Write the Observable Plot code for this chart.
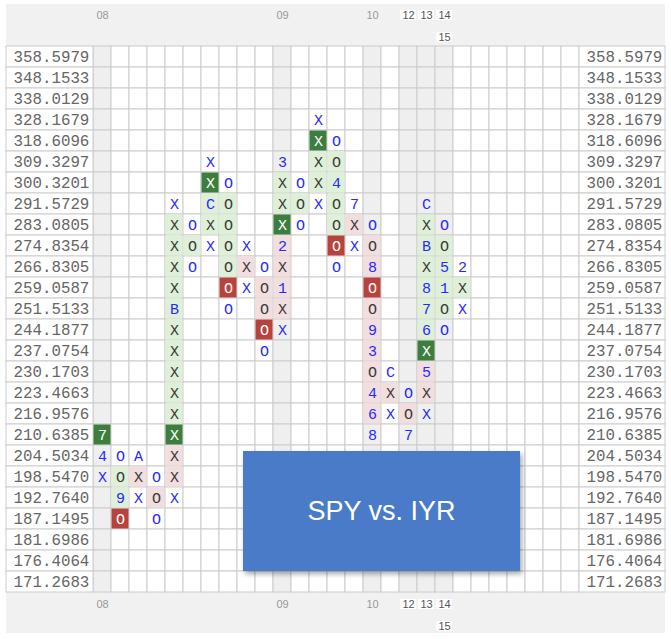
<!DOCTYPE html>
<html><head><meta charset="utf-8">
<script src="https://cdn.jsdelivr.net/npm/d3@7"></script>
<script src="https://cdn.jsdelivr.net/npm/@observablehq/plot@0.6"></script>
<style>
body{margin:0;background:#fff;}
#wrap{position:relative;width:671px;height:639px;}
#title{position:absolute;left:243px;top:451px;width:277px;height:120px;background:#4a7bc8;box-shadow:2px 3px 5px rgba(0,0,0,0.35);color:#fff;font-family:"Liberation Sans",Arial,sans-serif;font-size:27px;display:flex;align-items:center;justify-content:center;}
</style></head><body>
<div id="wrap"><div id="title">SPY vs. IYR</div></div>
<script>
// ---- data ----
const priceLabels = ["358.5979","348.1533","338.0129","328.1679","318.6096","309.3297","300.3201","291.5729","283.0805","274.8354","266.8305","259.0587","251.5133","244.1877","237.0754","230.1703","223.4663","216.9576","210.6385","204.5034","198.5470","192.7640","187.1495","181.6986","176.4064","171.2683"];
const dateLabels = ["08","09","10","12","13","14","15"];
const dateCols   = [0, 10, 15, 17, 18, 19, 19];
// per column: first (top) row index, box characters top->bottom, box state codes
// state codes: w = plain, g = light green, p = light red, G = dark green, R = dark red
const colTop    = [18, 19, 19, 20, 7, 8, 5, 6, 9, 10, 5, 6, 3, 4, 7, 8, 15, 16, 7, 8, 10];
const colChars  = ["74X","OO9O","AXX","OOO","XXXXXBXXXXXXXXX","OOO","XXCXX","OOOOOOO","XXX","OOOOO","3XXX2X1XX","OOO","XXXXX","OO4OOOO","7XX","OO8OO93O468","CXX","OO7","CXBX876X5XX","OO51OO","2XX"];
const colStates = ["Gww","wggR","wpw","wpw","wggggggggggGppw","wgw","wGggw","wggggRw","wpw","wppRw","wggGppppw","wgw","wGggw","wggggRw","wpw","wppRppppppw","wpw","wpw","wggggggGppw","wggggw","wgw"];
const nCols = 27;

// ---- layout helpers (pixel -> scale units) ----
const X0 = 93, CW = 18, Y0 = 46, RH = 21;
const px = p => (p - X0) / CW;
const py = p => (p - Y0) / RH;
const nRows = priceLabels.length;

const shaded = new Set(dateCols);
const grid = [];
for (let c = 0; c < nCols; c++) for (let r = 0; r < nRows; r++) grid.push({c, r, s: shaded.has(c)});

const boxes = [];
colChars.forEach((str, i) => {
  [...str].forEach((ch, k) => boxes.push({col: i, row: colTop[i] + k, ch, st: colStates[i][k]}));
});
const fillOf = {g: "#dff0d8", p: "#f2dede", G: "#3d7d3d", R: "#b8433e"};
const textColor = d => (d.st === "G" || d.st === "R") ? "#ffffff"
  : (d.st === "w") ? "#2a2aff"
  : (d.ch === "X" || d.ch === "O") ? "#3a3a3a" : "#2a2aff";

const dates = dateLabels.map((label, i) => {
  const col = dateCols[i];
  const line = dateCols.slice(0, i).filter(c => c === col).length;
  const bold = dateCols.some((c, j) => j !== i && Math.abs(c - col) <= 1);
  return {label, col, line, bold};
});
const headerY = [15, 37], footerY = [604, 626];
const dateTexts = dates.flatMap(d => [
  {...d, y: py(headerY[d.line])},
  {...d, y: py(footerY[d.line])}
]);

const chart = Plot.plot({
  width: 671, height: 639,
  marginTop: 0, marginBottom: 0, marginLeft: 0, marginRight: 0,
  x: {domain: [px(0), px(671)], range: [0, 671], axis: null},
  y: {domain: [py(0), py(639)], range: [0, 639], axis: null},
  style: {background: "#fff", fontFamily: "Liberation Sans, Arial, sans-serif"},
  marks: [
    // header & footer bands
    Plot.rect([0], {x1: () => px(6), x2: () => px(665), y1: () => py(4), y2: () => 0, fill: "#f1f1f1"}),
    Plot.rect([0], {x1: () => px(6), x2: () => px(665), y1: () => nRows, y2: () => py(633), fill: "#f1f1f1"}),
    // grid
    Plot.rect(grid, {x1: d => d.c, x2: d => d.c + 1, y1: d => d.r, y2: d => d.r + 1,
      fill: d => d.s ? "#efefef" : "#ffffff", stroke: "#cccccc", strokeWidth: 1}),
    // price label panels
    Plot.rect(priceLabels, {x1: () => px(6), x2: () => 0, y1: (d, i) => i, y2: (d, i) => i + 1, fill: "#fff", stroke: "#cccccc"}),
    Plot.rect(priceLabels, {x1: () => nCols, x2: () => px(665), y1: (d, i) => i, y2: (d, i) => i + 1, fill: "#fff", stroke: "#cccccc"}),
    Plot.text(priceLabels, {x: () => px(13), y: (d, i) => i + 0.5, text: d => d, textAnchor: "start",
      fontFamily: "Liberation Mono, monospace", fontSize: 15.8, fill: "#666"}),
    Plot.text(priceLabels, {x: () => px(586), y: (d, i) => i + 0.5, text: d => d, textAnchor: "start",
      fontFamily: "Liberation Mono, monospace", fontSize: 15.8, fill: "#666"}),
    // colored boxes
    Plot.rect(boxes.filter(d => d.st !== "w"), {x1: d => d.col, x2: d => d.col + 1, y1: d => d.row, y2: d => d.row + 1,
      fill: d => fillOf[d.st], inset: 0.5}),
    // box symbols
    Plot.text(boxes, {x: d => d.col + 0.5, y: d => d.row + 0.5, text: "ch", fill: textColor,
      fontFamily: "Liberation Mono, monospace", fontSize: 15}),
    // date labels
    Plot.rect(dateTexts.filter(d => d.bold), {x1: d => d.col + 1 / CW, x2: d => d.col + 17 / CW,
      y1: d => d.y - 5 / RH, y2: d => d.y + 5 / RH, fill: "#ffffff"}),
    Plot.text(dateTexts, {x: d => d.col + 0.5, y: d => d.y, text: "label",
      fill: d => d.bold ? "#555" : "#999", fontWeight: d => d.bold ? "bold" : "normal", fontSize: 11})
  ]
});
const wrap = document.getElementById("wrap");
wrap.insertBefore(chart, wrap.firstChild);
</script>
</body></html>
